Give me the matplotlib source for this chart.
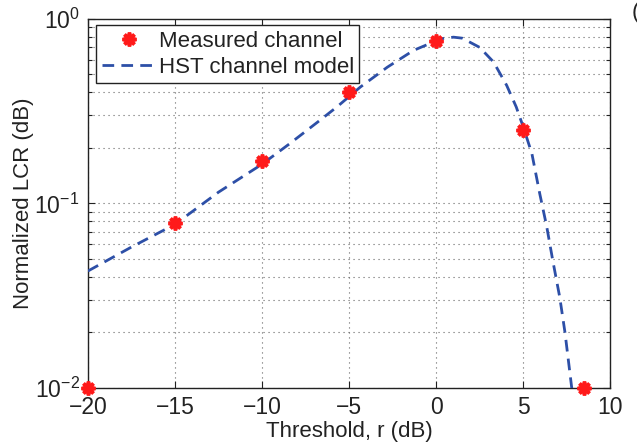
import matplotlib
matplotlib.use('agg')
import matplotlib.pyplot as plt
from matplotlib.ticker import LogLocator, NullFormatter, NullLocator

# measured points (red stars)
meas_x = [-20, -15, -10, -5, 0, 5, 8.5]
meas_y = [0.01, 0.078, 0.169, 0.40, 0.755, 0.25, 0.01]

# HST channel model curve
model_x = [-20, -17.5, -15, -12.5, -10, -8.4, -6.8, -5.7, -4.35, -2.8, -1.3,
           0.3, 1.0, 1.5, 2.5, 3.3, 4.05, 4.6, 5.0, 5.5, 5.95, 6.35, 6.7,
           7.1, 7.4, 7.8]
model_y = [0.043, 0.058, 0.077, 0.115, 0.163, 0.211, 0.276, 0.333, 0.427,
           0.547, 0.674, 0.78, 0.795, 0.785, 0.70, 0.583, 0.436, 0.333, 0.26,
           0.186, 0.113, 0.075, 0.049, 0.031, 0.020, 0.0098]

x_ticks = [-20, -15, -10, -5, 0, 5, 10]

plt.rcParams['font.family'] = ['Liberation Sans', 'DejaVu Sans']
plt.rcParams['mathtext.fontset'] = 'custom'
plt.rcParams['mathtext.rm'] = 'Liberation Sans'
plt.rcParams['mathtext.it'] = 'Liberation Sans:italic'
plt.rcParams['font.size'] = 16

fig = plt.figure(figsize=(6.37, 4.47), dpi=100)
ax = fig.add_axes([0.138, 0.132, 0.82, 0.826])

ax.plot(model_x, model_y, color='#2d4fa7', lw=2.0, dashes=(4.2, 2.6),
        label='HST channel model', zorder=3)
ax.plot(meas_x, meas_y, linestyle='none', marker=(8, 2, 0), markersize=10,
        markeredgewidth=2.6, color='#ff1a1a', label='Measured channel',
        clip_on=False, zorder=4)

ax.set_yscale('log')
ax.set_xlim(-20, 10)
ax.set_ylim(0.01, 1)
ax.set_xticks(x_ticks)
ax.set_xticklabels(['\u221220', '\u221215', '\u221210', '\u22125', '0', '5', '10'])
ax.xaxis.set_minor_locator(NullLocator())
ax.yaxis.set_major_locator(LogLocator(base=10, numticks=5))
ax.yaxis.set_minor_locator(LogLocator(base=10, subs=range(2, 10), numticks=10))
ax.yaxis.set_minor_formatter(NullFormatter())

ax.tick_params(which='both', direction='in', top=True, right=True,
               colors='#222222', labelcolor='#222222', width=0.8)
ax.tick_params(which='major', length=5, pad=6, labelsize=16.5)
ax.tick_params(which='minor', length=3)

ax.grid(True, which='major', linestyle=(0, (1, 3.5)), color='#666666', lw=0.8)
ax.grid(True, which='minor', axis='y', linestyle=(0, (1, 3.5)), color='#666666', lw=0.8)
for s in ax.spines.values():
    s.set_linewidth(1.0)
    s.set_color('#222222')

ax.set_xlabel('Threshold, r (dB)', color='#222222', labelpad=1)
ax.set_ylabel('Normalized LCR (dB)', color='#222222', labelpad=0)

leg = ax.legend(handles=ax.get_lines()[::-1], loc='upper left',
                bbox_to_anchor=(0.012, 0.988), fancybox=False, framealpha=1,
                edgecolor='#222222', borderpad=0.25, labelspacing=0.22,
                handlelength=2.4, handletextpad=0.15, borderaxespad=0.1)
leg.get_frame().set_linewidth(1.0)
for t in leg.get_texts():
    t.set_color('#222222')

fig.text(0.992, 0.995, '(', ha='left', va='top', fontsize=16, color='#222222')

fig.savefig('out.png', dpi=100)
